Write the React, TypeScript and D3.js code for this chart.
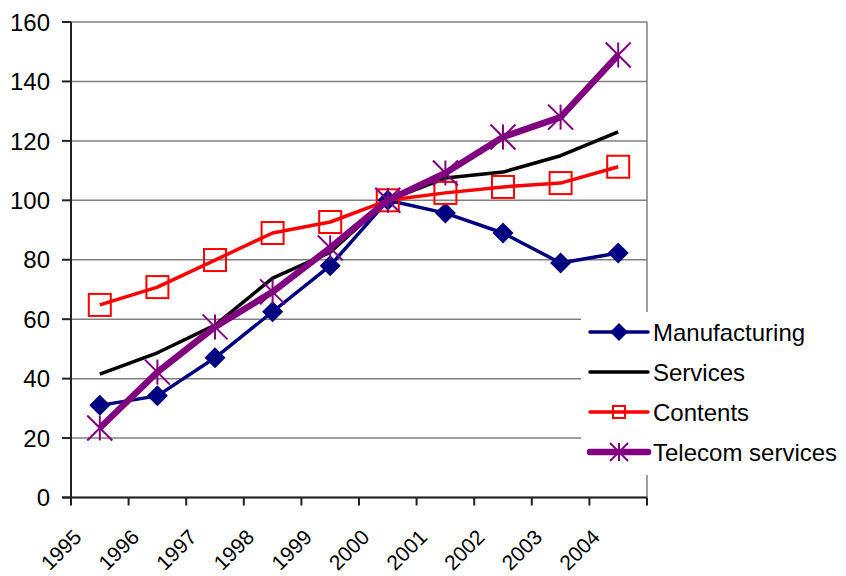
import React from "react";
import * as d3 from "d3";

const years = ["1995", "1996", "1997", "1998", "1999", "2000", "2001", "2002", "2003", "2004"];
const manufacturing = [31, 34.2, 47, 62.5, 78, 100, 95.7, 89, 78.9, 82.3];
const services = [41.5, 48.7, 58, 73.8, 82.5, 100, 107.5, 109.5, 115, 123];
const contents = [64.8, 70.8, 79.9, 89, 92.7, 100, 102.5, 104.5, 105.8, 111.3];
const telecom = [23.4, 42.2, 57.4, 69.2, 84, 100, 109.2, 121.3, 128, 148.9];
const yTicks = [0, 20, 40, 60, 80, 100, 120, 140, 160];
const seriesNames = ["Manufacturing", "Services", "Contents", "Telecom services"];

const W = 846, H = 576;
const L = 71, R = 647, T = 22, B = 497.5;
const FONT = "'Liberation Sans', Arial, sans-serif";

type S = { name: string; values: number[]; color: string; width: number; marker: string };

const series: S[] = [
  { name: seriesNames[0], values: manufacturing, color: "#000080", width: 3.5, marker: "diamond" },
  { name: seriesNames[1], values: services, color: "#000000", width: 3.5, marker: "none" },
  { name: seriesNames[2], values: contents, color: "#FF0000", width: 3.5, marker: "square" },
  { name: seriesNames[3], values: telecom, color: "#800080", width: 6.5, marker: "star" },
];

function Marker({ type, x, y, color, small }: { type: string; x: number; y: number; color: string; small?: boolean }) {
  if (type === "diamond") {
    const r = small ? 9 : 10.5;
    return <path d={`M${x},${y - r}L${x + r},${y}L${x},${y + r}L${x - r},${y}Z`} fill={color} />;
  }
  if (type === "square") {
    const r = small ? 6 : 11;
    return <rect x={x - r} y={y - r} width={2 * r} height={2 * r} fill="none" stroke={color} strokeWidth={2} />;
  }
  if (type === "star") {
    const r = small ? 9 : 12.5;
    return (
      <g stroke={color} strokeWidth={2}>
        <line x1={x - r} y1={y - r} x2={x + r} y2={y + r} />
        <line x1={x - r} y1={y + r} x2={x + r} y2={y - r} />
        <line x1={x} y1={y - r} x2={x} y2={y + r} />
      </g>
    );
  }
  return null;
}

export default function App() {
  const x = d3.scaleBand<string>().domain(years).range([L, R]);
  const y = d3.scaleLinear().domain([0, 160]).range([B, T]);
  const cx = (yr: string) => (x(yr) as number) + x.bandwidth() / 2;
  const line = d3
    .line<number>()
    .x((_, i) => cx(years[i]))
    .y((d) => y(d));

  const legX = 590, legY0 = 332, legDy = 40;

  return (
    <svg width={W} height={H} style={{ position: "absolute", left: 0, top: 0 }} fontFamily={FONT}>
      <rect width={W} height={H} fill="#fff" />
      {yTicks.map((t) => (
        <line key={t} x1={L} x2={R} y1={y(t)} y2={y(t)} stroke="#808080" strokeWidth={1.5} />
      ))}
      <line x1={R} x2={R} y1={T} y2={B} stroke="#808080" strokeWidth={1.5} />
      {/* axes */}
      <line x1={L} x2={L} y1={T} y2={B} stroke="#222" strokeWidth={2} />
      <line x1={L - 9} x2={R} y1={B} y2={B} stroke="#222" strokeWidth={2} />
      {yTicks.map((t) => (
        <g key={"yt" + t}>
          <line x1={L - 9} x2={L} y1={y(t)} y2={y(t)} stroke="#222" strokeWidth={2} />
          <text x={50} y={y(t)} dy="0.36em" textAnchor="end" fontSize={24} fill="#000">
            {t}
          </text>
        </g>
      ))}
      {[...years.map((yr) => x(yr) as number), R].map((p, i) => (
        <line key={"xt" + i} x1={p} x2={p} y1={B} y2={B + 8} stroke="#222" strokeWidth={2} />
      ))}
      {years.map((yr) => {
        const ax = cx(yr) - 17;
        const ay = B + 41;
        return (
          <text key={"xl" + yr} x={ax} y={ay} textAnchor="end" fontSize={21} transform={`rotate(-45 ${ax} ${ay})`}>
            {yr}
          </text>
        );
      })}
      {series.map((s) => (
        <g key={s.name}>
          <path d={line(s.values) || ""} fill="none" stroke={s.color} strokeWidth={s.width} strokeLinejoin="round" />
          {s.values.map((v, i) => (
            <Marker key={i} type={s.marker} x={cx(years[i])} y={y(v)} color={s.color} />
          ))}
        </g>
      ))}
      {/* legend */}
      <rect x={581} y={312} width={W - 581} height={163} fill="#fff" />
      {series.map((s, i) => {
        const ly = legY0 + i * legDy;
        return (
          <g key={"lg" + s.name}>
            <line x1={legX} x2={legX + 58} y1={ly} y2={ly} stroke={s.color} strokeWidth={s.width} strokeLinecap="round" />
            <Marker type={s.marker} x={legX + 29} y={ly} color={s.color} small />
            <text x={653} y={ly} dy="0.36em" fontSize={24} fill="#000">
              {s.name}
            </text>
          </g>
        );
      })}
    </svg>
  );
}
